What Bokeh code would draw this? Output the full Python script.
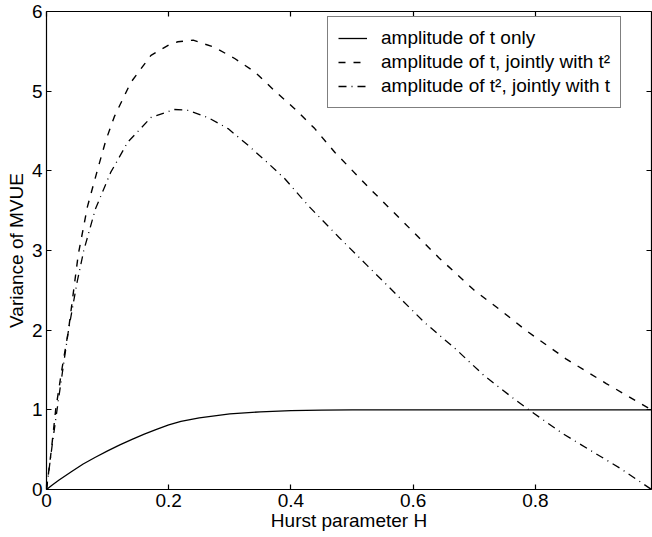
from bokeh.plotting import figure
from bokeh.models import (LinearAxis, FixedTicker, Range1d, Legend, LegendItem)
from bokeh.embed import file_html
from bokeh.resources import INLINE

# ---- data ----
h_solid = [0, 0.01, 0.02, 0.04, 0.06, 0.08, 0.10, 0.12, 0.14, 0.16, 0.18, 0.20,
           0.22, 0.25, 0.30, 0.35, 0.40, 0.45, 0.50, 0.60, 0.70, 0.80, 0.90, 0.99]
v_solid = [0, 0.06, 0.115, 0.22, 0.32, 0.405, 0.485, 0.56, 0.63, 0.695, 0.755, 0.81,
           0.855, 0.90, 0.948, 0.975, 0.99, 0.997, 1.0, 1.0, 1.0, 1.0, 1.0, 1.0]

h_dash = [0, 0.008, 0.015, 0.025, 0.036, 0.052, 0.067, 0.083, 0.097, 0.111, 0.138,
          0.171, 0.20, 0.215, 0.24, 0.275, 0.308, 0.341, 0.374, 0.406, 0.439,
          0.472, 0.53, 0.585, 0.642, 0.70, 0.743, 0.784, 0.85, 0.916, 0.99]
v_dash = [0, 0.5, 1.0, 1.5, 2.0, 2.95, 3.55, 4.0, 4.38, 4.68, 5.11,
          5.45, 5.58, 5.62, 5.64, 5.55, 5.41, 5.24, 5.0, 4.78, 4.53,
          4.23, 3.77, 3.35, 2.91, 2.50, 2.25, 2.0, 1.64, 1.33, 1.0]

h_dd = [0, 0.01, 0.02, 0.036, 0.05, 0.061, 0.08, 0.105, 0.133, 0.171, 0.209, 0.231,
        0.264, 0.297, 0.33, 0.362, 0.39, 0.43, 0.478, 0.525, 0.571, 0.618,
        0.67, 0.716, 0.768, 0.793, 0.845, 0.886, 0.94, 0.99]
v_dd = [0, 0.6, 1.15, 2.0, 2.6, 3.0, 3.52, 3.98, 4.36, 4.67, 4.77, 4.76,
        4.67, 4.53, 4.32, 4.1, 3.9, 3.55, 3.17, 2.81, 2.46, 2.10,
        1.76, 1.43, 1.12, 0.98, 0.70, 0.51, 0.26, 0.0]

x_ticks = [0, 0.2, 0.4, 0.6, 0.8]
x_tick_labels = ["0", "0.2", "0.4", "0.6", "0.8"]
y_ticks = [0, 1, 2, 3, 4, 5, 6]
y_tick_labels = ["0", "1", "2", "3", "4", "5", "6"]

labels = ["amplitude of t only",
          "amplitude of t, jointly with t\u00b2",
          "amplitude of t\u00b2, jointly with t"]

FONT = "Liberation Sans"

p = figure(width=652, height=537, output_backend="svg", toolbar_location=None,
           x_range=Range1d(0, 0.99), y_range=Range1d(0, 6),
           x_axis_type=None, y_axis_type=None,
           min_border_left=46, min_border_right=1, min_border_top=11,
           min_border_bottom=48)
p.outline_line_color = None
p.background_fill_color = "white"
p.border_fill_color = "white"


def style_axis(ax, show_labels):
    ax.axis_line_color = "black"
    ax.axis_line_width = 1.2
    ax.major_tick_line_color = "black"
    ax.major_tick_line_width = 1.2
    ax.major_tick_in = 5
    ax.major_tick_out = 0
    ax.minor_tick_line_color = None
    if show_labels:
        ax.major_label_text_font = FONT
        ax.major_label_text_font_size = "19px"
        ax.major_label_text_color = "black"
        ax.axis_label_text_font = FONT
        ax.axis_label_text_font_size = "19px"
        ax.axis_label_text_font_style = "normal"
        ax.axis_label_text_color = "black"
    else:
        ax.major_label_standoff = 0


xb = LinearAxis(ticker=FixedTicker(ticks=x_ticks),
                major_label_overrides={t: s for t, s in zip(x_ticks, x_tick_labels)},
                axis_label="Hurst parameter H")
style_axis(xb, True)
xb.major_label_standoff = 4
xb.axis_label_standoff = 0
p.add_layout(xb, "below")

yl = LinearAxis(ticker=FixedTicker(ticks=y_ticks),
                major_label_overrides={t: s for t, s in zip(y_ticks, y_tick_labels)},
                axis_label="Variance of MVUE")
style_axis(yl, True)
yl.major_label_standoff = 4
yl.axis_label_standoff = 2
p.add_layout(yl, "left")

xt = LinearAxis(ticker=FixedTicker(ticks=x_ticks),
                major_label_overrides={t: "" for t in x_ticks})
style_axis(xt, False)
p.add_layout(xt, "above")

yr = LinearAxis(ticker=FixedTicker(ticks=y_ticks),
                major_label_overrides={t: "" for t in y_ticks})
style_axis(yr, False)
p.add_layout(yr, "right")

r1 = p.line(h_solid, v_solid, line_color="black", line_width=1.3)
r2 = p.line(h_dash, v_dash, line_color="black", line_width=1.4, line_dash="7 8")
r3 = p.line(h_dd, v_dd, line_color="black", line_width=1.3, line_dash="8 5 1 5")

legend = Legend(items=[LegendItem(label=labels[0], renderers=[r1]),
                       LegendItem(label=labels[1], renderers=[r2]),
                       LegendItem(label=labels[2], renderers=[r3])],
                location=(281, 381))
legend.label_text_font = FONT
legend.label_text_font_size = "19px"
legend.label_text_color = "black"
legend.glyph_width = 29
legend.glyph_height = 20
legend.label_height = 20
legend.label_standoff = 14
legend.padding = 10
legend.spacing = 2
legend.margin = 0
legend.border_line_color = "black"
legend.border_line_width = 1.2
legend.background_fill_color = "white"
legend.background_fill_alpha = 1.0
p.add_layout(legend, "center")

open("out.html", "w").write(file_html(p, INLINE))
